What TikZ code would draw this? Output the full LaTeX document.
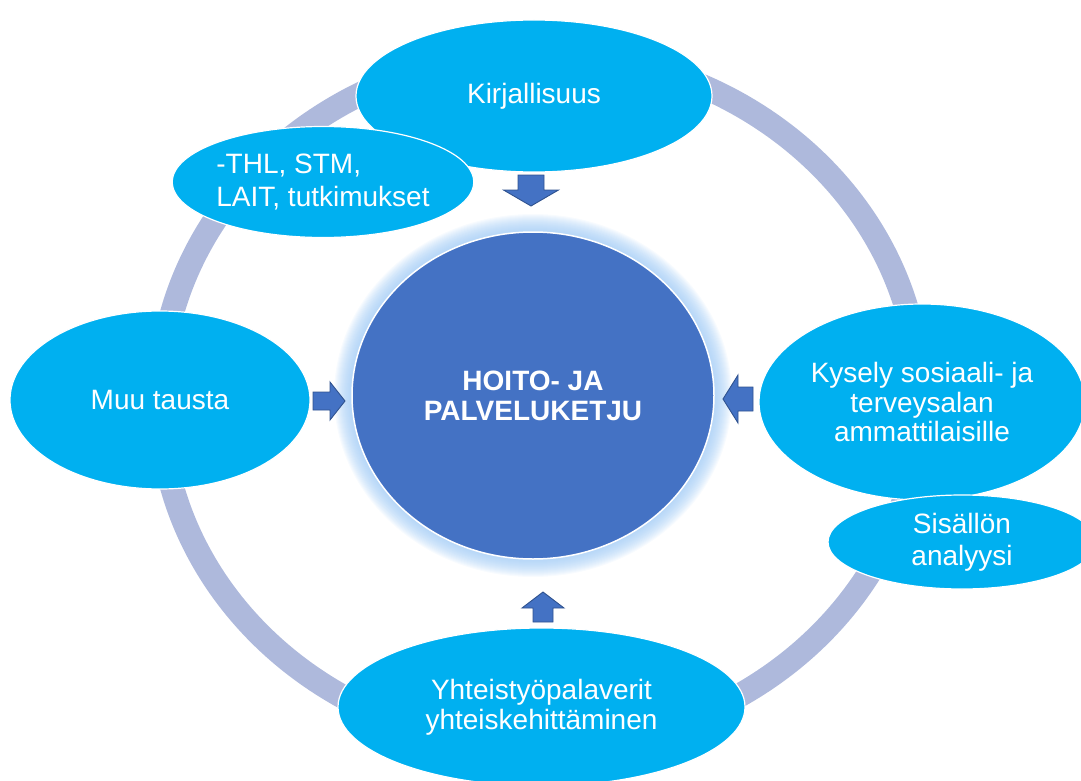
\documentclass[tikz,border=0pt]{standalone}
\usepackage{fontspec}
\setmainfont{Liberation Sans}
\usetikzlibrary{shapes.geometric}
\definecolor{bubble}{HTML}{00B0F0}
\definecolor{core}{HTML}{4472C4}
\definecolor{coreedge}{HTML}{2F528F}
\definecolor{ringc}{HTML}{AEB9DC}
\definecolor{glowc}{HTML}{9CC8F5}
% coordinate, angle, length, head width, shaft width, head length
\newcommand{\blockarr}[6]{%
  \filldraw[arrowfill, shift={(#1)}, rotate=#2]
    (-#3/2,-#5/2) -- (#3/2-#6,-#5/2) -- (#3/2-#6,-#4/2) -- (#3/2,0)
    -- (#3/2-#6,#4/2) -- (#3/2-#6,#5/2) -- (-#3/2,#5/2) -- cycle;}
\begin{document}
\begin{tikzpicture}[x=1pt,y=-1pt,
  bub/.style={ellipse, fill=bubble, draw=white, line width=1.2pt, text=white,
    inner sep=0pt, align=center, font=\fontsize{28}{30}\selectfont},
  corebox/.style={ellipse, fill=core, draw=white, line width=1.5pt, text=white,
    inner sep=0pt, align=center, font=\fontsize{28}{30}\selectfont\bfseries},
  arrowfill/.style={fill=core, draw=coreedge, line width=0.9pt, line join=miter}]
\useasboundingbox (0,0) rectangle (1081,781);
% ring
\draw[ringc, line width=24pt] (540,400) ellipse [x radius=380pt, y radius=347pt];
% glow
\foreach \i in {1,...,18}
  \fill[glowc, opacity=0.07] (533,395.5) ellipse [x radius={(181+\i)*1pt}, y radius={(163.5+\i)*1pt}];
% centre
\node[corebox, minimum width=362pt, minimum height=327pt] (core) at (533,395.5) {HOITO- JA\\PALVELUKETJU};
% bubbles
\node[bub, minimum width=356pt, minimum height=152pt] (kir) at (534,96) {Kirjallisuus};
\node[bub, minimum width=282pt, minimum height=111pt, align=left,
  font=\fontsize{28}{33}\selectfont] (thl) at (323,182) {-THL, STM,\\LAIT, tutkimukset};
\node[bub, minimum width=300pt, minimum height=178pt] (muu) at (160,400) {Muu tausta};
\node[bub, minimum width=326pt, minimum height=196pt,
  font=\fontsize{28}{29.5}\selectfont] (kys) at (922,402) {Kysely sosiaali- ja\\terveysalan\\ammattilaisille};
\node[bub, minimum width=268pt, minimum height=94pt,
  font=\fontsize{28}{32}\selectfont] (sis) at (962,542) {Sisällön\\analyysi};
\node[bub, minimum width=407pt, minimum height=158pt] (yht) at (541.5,707) {Yhteistyöpalaverit\\yhteiskehittäminen};
% block arrows
\coordinate (aD) at (531,190.5);
\coordinate (aL) at (738,399);
\coordinate (aR) at (329,401);
\coordinate (aU) at (543,607);
\blockarr{aD}{-90}{31}{55}{26}{16}
\blockarr{aL}{180}{30}{48}{24}{15}
\blockarr{aR}{0}{32}{38}{18}{15}
\blockarr{aU}{90}{30}{42}{20}{16}
\end{tikzpicture}
\end{document}
